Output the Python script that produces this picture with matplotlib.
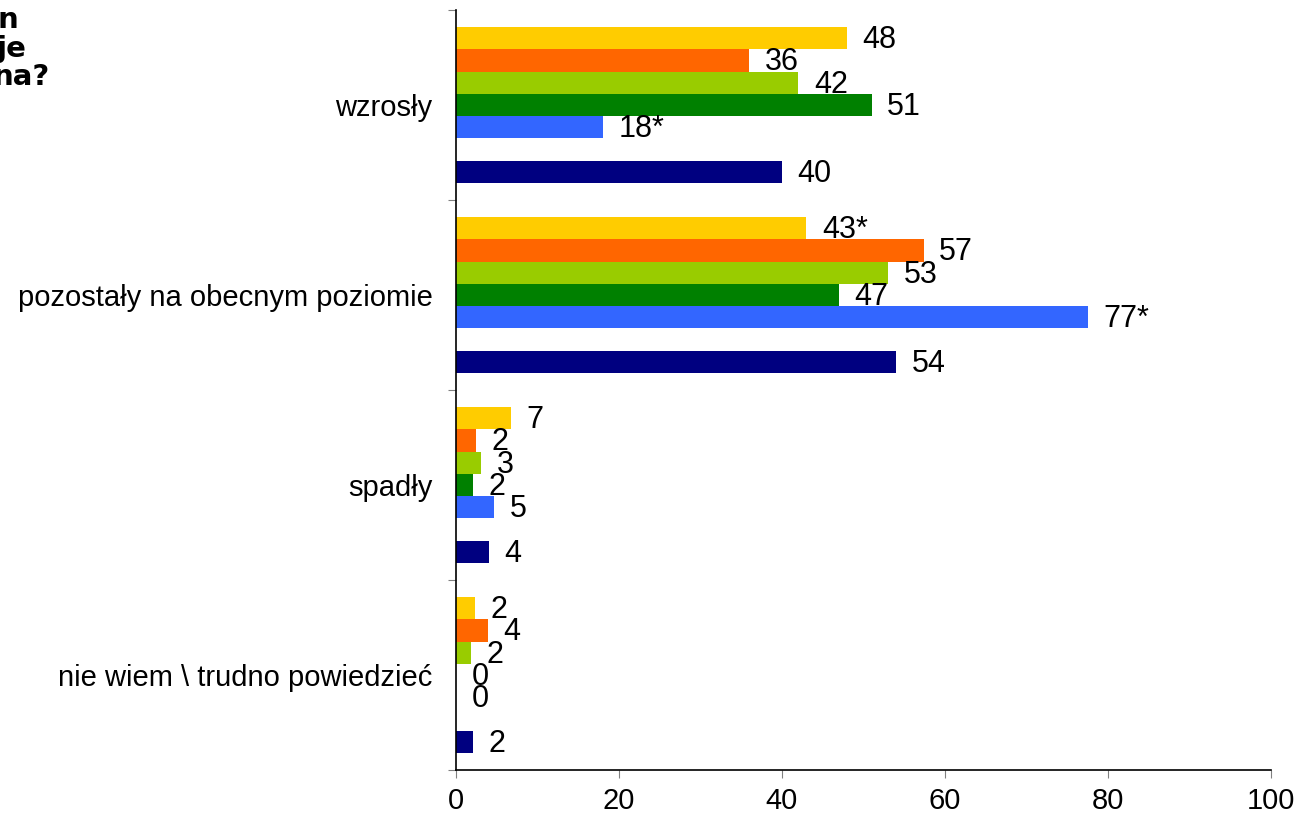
import numpy as np
import matplotlib.pyplot as plt

plt.rcParams['font.family'] = ['Liberation Sans', 'DejaVu Sans']

categories = ["wzrosły", "pozostały na obecnym poziomie", "spadły",
              "nie wiem \\ trudno powiedzieć"]

# series top -> bottom inside each group (slot 5 is empty, navy sits in slot 6)
series_colors = ["#FFCC00", "#FF6600", "#99CC00", "#008000", "#3366FF", "#000080"]
series_slots = [0, 1, 2, 3, 4, 6]

values = [
    [48, 36, 42, 51, 18, 40],
    [43, 57.4, 53, 47, 77.5, 54],
    [6.7, 2.5, 3.1, 2.1, 4.7, 4.0],
    [2.3, 3.9, 1.8, 0, 0, 2.1],
]
labels = [
    ["48", "36", "42", "51", "18*", "40"],
    ["43*", "57", "53", "47", "77*", "54"],
    ["7", "2", "3", "2", "5", "4"],
    ["2", "4", "2", "0", "0", "2"],
]

# visible (cut-off) pieces of the question text at the top-left
title_lines = ["n", "je", "na?"]

fig = plt.figure(figsize=(13.02, 8.16), dpi=100)
ax = fig.add_axes([456 / 1302, 1 - 770 / 816, (1271 - 456) / 1302, 760 / 816])

slot_h = 0.1175
margin = (1 - 7 * slot_h) / 2
for i, cat in enumerate(categories):
    for j, v in enumerate(values[i]):
        y = i + margin + (series_slots[j] + 0.5) * slot_h
        ax.barh(y, v, height=slot_h, color=series_colors[j], edgecolor='none')
        ax.text(v + 1.9, y + 0.01, labels[i][j], va='center', ha='left', fontsize=22)

ax.set_xlim(0, 100)
ax.set_ylim(len(categories), 0)
ax.set_xticks([0, 20, 40, 60, 80, 100])
ax.set_yticks(np.arange(len(categories) + 1))
ax.set_yticklabels([])
ax.set_yticks(np.arange(len(categories)) + 0.5, minor=True)
ax.set_yticklabels(categories, minor=True, fontsize=21)
ax.tick_params(axis='y', which='minor', length=0, pad=17)
ax.tick_params(axis='y', which='major', length=6, direction='out', color='#808080')
ax.tick_params(axis='x', labelsize=21, length=6, direction='out', color='#808080', pad=6)
ax.spines['top'].set_visible(False)
ax.spines['right'].set_visible(False)
ax.spines['left'].set_linewidth(1.2)
ax.spines['bottom'].set_linewidth(1.2)

# the question text is left-aligned and cut off by the left edge
for line, right_px, base_px in zip(title_lines, [18, 27, 50], [28, 57, 85]):
    fig.text(right_px / 1302, 1 - base_px / 816, line, fontsize=21, fontweight='bold',
             ha='right', va='baseline', family=['DejaVu Sans'])

fig.savefig("out.png", dpi=100)
